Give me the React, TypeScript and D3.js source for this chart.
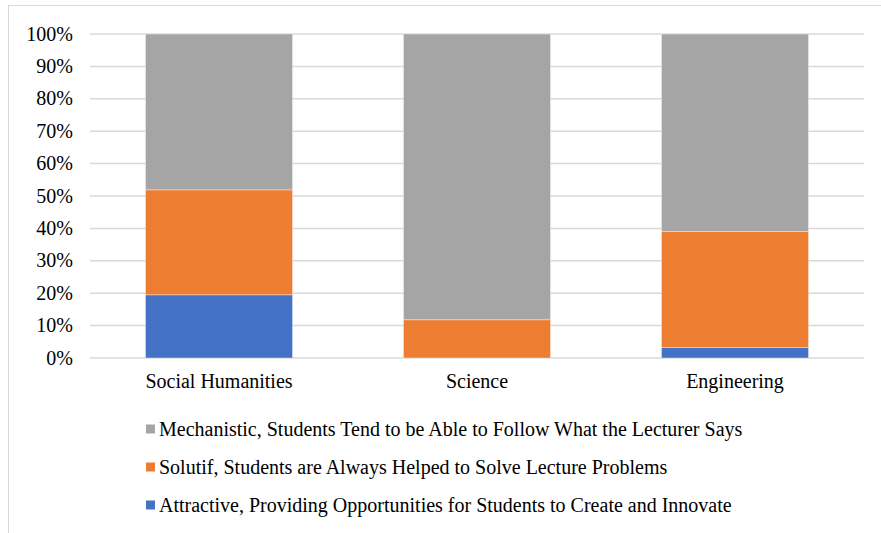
import React, { useEffect, useRef } from "react";
import * as d3 from "d3";

const categories = ["Social Humanities", "Science", "Engineering"];
const seriesNames = [
  "Attractive, Providing Opportunities for Students to Create and Innovate",
  "Solutif, Students are Always Helped to Solve Lecture Problems",
  "Mechanistic, Students Tend to be Able to Follow What the Lecturer Says",
];
const attractive = [19.5, 0, 3.2];
const solutif = [32.4, 11.8, 35.8];
const mechanistic = [48.1, 88.2, 61.0];
const seriesColors = ["#4472c4", "#ed7d31", "#a5a5a5"];
const yTicks = [0, 10, 20, 30, 40, 50, 60, 70, 80, 90, 100];
const legendOrder = [2, 1, 0];

const W = 881;
const H = 533;
const plot = { left: 90, right: 864, top: 34, bottom: 358 };
const FS = 20;

export default function App() {
  const legendRef = useRef<SVGGElement>(null);
  const x = d3
    .scaleBand<string>()
    .domain(categories)
    .range([plot.left, plot.right])
    .paddingInner(0.43)
    .paddingOuter(0.215);
  const y = d3.scaleLinear().domain([0, 100]).range([plot.bottom, plot.top]);

  const rows = categories.map((c, i) => ({
    cat: c,
    s0: attractive[i],
    s1: solutif[i],
    s2: mechanistic[i],
  }));
  const stack = d3.stack<any>().keys(["s0", "s1", "s2"]);
  const layers = stack(rows);

  useEffect(() => {
    const g = d3.select(legendRef.current);
    g.selectAll("*").remove();
    legendOrder.forEach((si, k) => {
      const cy = 429 + k * 38;
      g.append("rect")
        .attr("x", 146)
        .attr("y", cy - 4.5)
        .attr("width", 9)
        .attr("height", 9)
        .attr("fill", seriesColors[si]);
      g.append("text")
        .attr("x", 159)
        .attr("y", cy + 6.5)
        .attr("font-size", FS)
        .attr("font-family", "Liberation Serif")
        .style("font-family", "'Liberation Serif'")
        .attr("fill", "#000")
        .text(seriesNames[si]);
    });
  }, []);

  return (
    <div style={{ position: "absolute", left: 0, top: 0 }}>
      <svg width={W} height={H}>
        <style>{`.cat { font-family: "Tinos", "Liberation Serif", serif; }`}</style>
        <rect x={0} y={0} width={W} height={H} fill="#fff" />
        <rect x={8.5} y={5.5} width={W + 20} height={H + 20} fill="none" stroke="#d9d9d9" strokeWidth={1} />
        {yTicks.map((t) => (
          <g key={t}>
            <line
              x1={plot.left}
              x2={plot.right}
              y1={y(t)}
              y2={y(t)}
              stroke="#d9d9d9"
              strokeWidth={1.5}
            />
            <text
              x={73}
              y={y(t) + 6.5}
              textAnchor="end"
              fontSize={FS}
              fontFamily="Times New Roman"
              fill="#000"
            >
              {t}%
            </text>
          </g>
        ))}
        {layers.map((layer, li) =>
          layer.map((d, i) => {
            const h = y(d[0]) - y(d[1]);
            if (h <= 0) return null;
            return (
              <rect
                key={li + "-" + i}
                x={x(categories[i])!}
                y={y(d[1])}
                width={x.bandwidth()}
                height={h}
                fill={seriesColors[li]}
                stroke="#ffffff"
                strokeOpacity={0.5}
                strokeWidth={0.75}
              />
            );
          })
        )}
        {categories.map((c) => (
          <text
            key={c}
            className="cat"
            x={x(c)! + x.bandwidth() / 2}
            y={388}
            textAnchor="middle"
            fontSize={FS}
            fill="#000"
          >
            {c}
          </text>
        ))}
        <g ref={legendRef} />
      </svg>
    </div>
  );
}
